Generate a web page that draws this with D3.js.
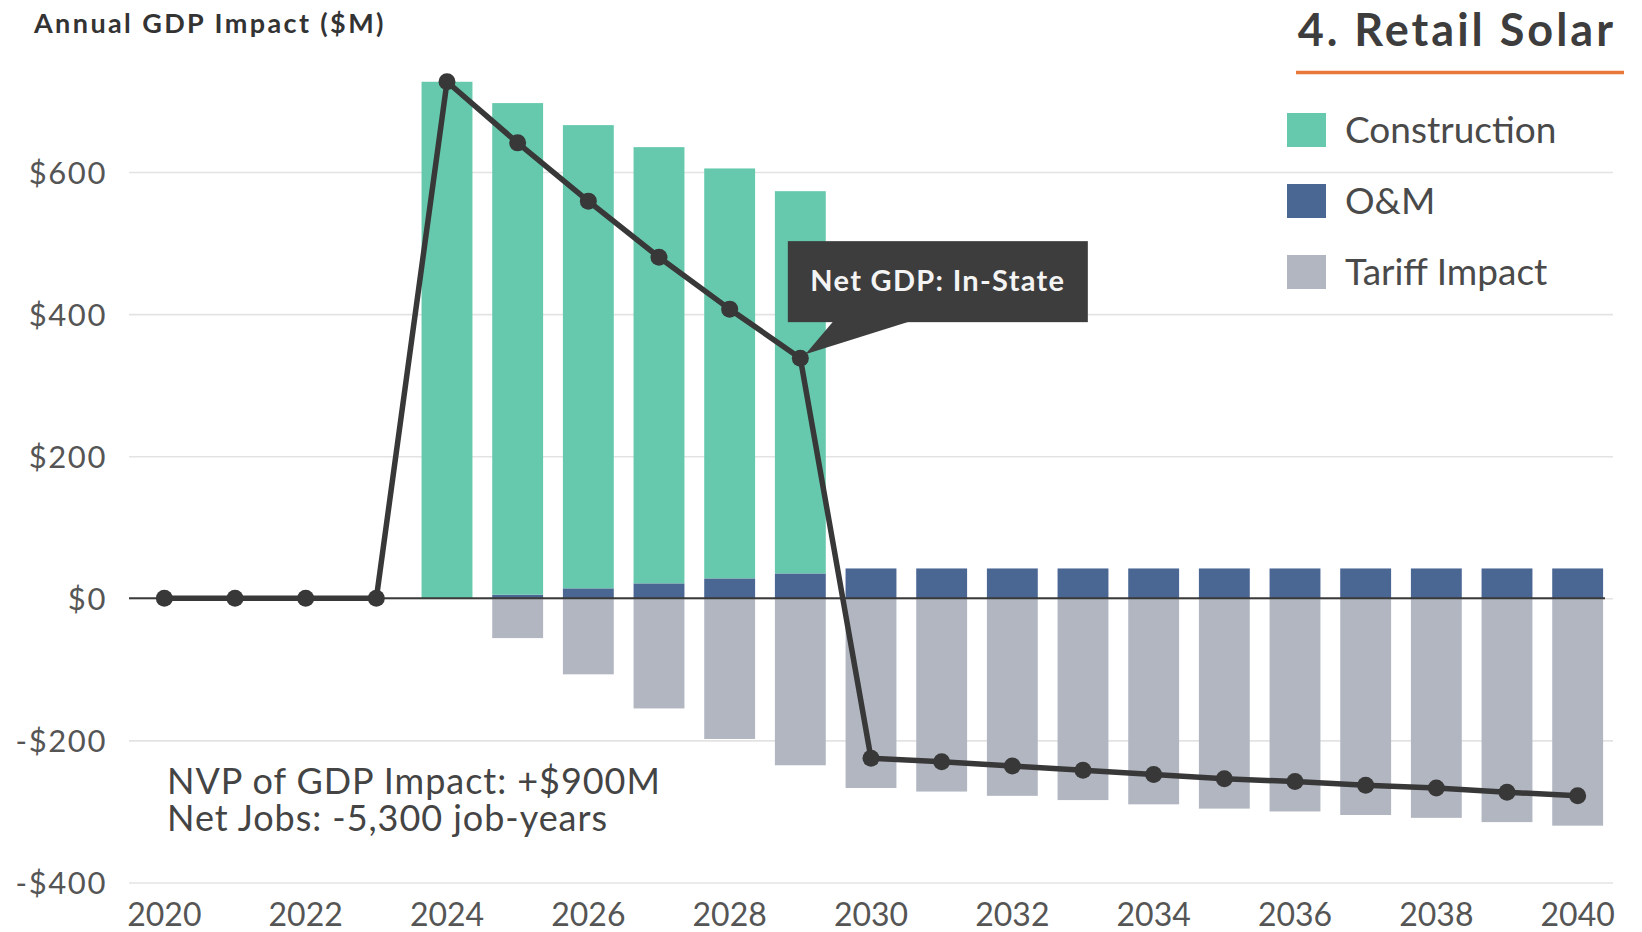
<!DOCTYPE html>
<html>
<head>
<meta charset="utf-8">
<script src="https://cdn.jsdelivr.net/npm/d3@7"></script>
<style>
  html, body { margin: 0; padding: 0; background: #ffffff; }
  svg { display: block; font-family: Lato, "Open Sans", sans-serif; }
</style>
</head>
<body>
<svg id="chart" width="1642" height="932"></svg>
<script>
// Annual GDP impact of retail solar, $M per year
const years = ["2020","2021","2022","2023","2024","2025","2026","2027","2028","2029","2030",
               "2031","2032","2033","2034","2035","2036","2037","2038","2039","2040"];
const construction = [0, 0, 0, 0, 727, 692, 652, 614, 577, 538, 0, 0, 0, 0, 0, 0, 0, 0, 0, 0, 0];
const operations   = [0, 0, 0, 0, 0, 5, 14, 21, 28, 35, 42, 42, 42, 42, 42, 42, 42, 42, 42, 42, 42];
const tariff       = [0, 0, 0, 0, 0, -56, -107, -155, -198, -235, -267, -272, -278, -284, -290, -296, -300, -305, -309, -315, -320];
const netInState   = [0, 0, 0, 0, 727, 641, 559, 480, 407, 338, -225, -230, -236, -242, -248, -254, -258, -263, -267, -273, -278];

const yTicks = [-400, -200, 0, 200, 400, 600];
const xTickLabels = ["2020","2022","2024","2026","2028","2030","2032","2034","2036","2038","2040"];

const legendItems = ["Construction", "O&M", "Tariff Impact"];
const colors = { construction: "#66c9ad", operations: "#4a6692", tariff: "#b1b6c0" };
const chartTitle = "4. Retail Solar";
const axisTitle = "Annual GDP Impact ($M)";
const calloutText = "Net GDP: In-State";
const summaryLines = ["NVP of GDP Impact: +$900M", "Net Jobs: -5,300 job-years"];

const svg = d3.select("#chart");
const plotLeft = 129, plotRight = 1613;

const x = d3.scaleBand().domain(years).range([plotLeft, plotRight])
  .paddingInner(0.28).paddingOuter(0.14);
const y = d3.scaleLinear().domain([-400, 600]).range([882.5, 172]);
const cx = d => x(d) + x.bandwidth() / 2;

// gridlines
svg.append("g")
  .attr("transform", `translate(${plotLeft},0)`)
  .call(d3.axisLeft(y).tickValues(yTicks).tickSize(-(plotRight - plotLeft)).tickFormat(""))
  .call(g => g.select(".domain").remove())
  .call(g => g.selectAll(".tick line").attr("stroke", "#e3e3e3").attr("stroke-width", 1.6));

// y tick labels
svg.append("g")
  .attr("transform", "translate(107,0)")
  .call(d3.axisLeft(y).tickValues(yTicks).tickSize(0).tickPadding(0)
    .tickFormat(v => (v < 0 ? "-$" : "$") + Math.abs(v)))
  .call(g => g.select(".domain").remove())
  .call(g => g.selectAll("text").attr("font-family", "Lato").attr("font-size", 31)
    .attr("letter-spacing", 1.6).attr("fill", "#555").attr("dy", "0.36em"));

// x tick labels
svg.append("g")
  .attr("transform", "translate(0,903)")
  .call(d3.axisBottom(x).tickValues(xTickLabels).tickSize(0).tickPadding(0))
  .call(g => g.select(".domain").remove())
  .call(g => g.selectAll("text").attr("font-family", "Lato").attr("font-size", 32)
    .attr("fill", "#555").attr("dy", "0.72em"));

// stacked bars: construction on top of O&M above zero, tariff below zero
const bars = svg.append("g");
years.forEach((yr, i) => {
  const om = operations[i], con = construction[i], tf = tariff[i];
  if (om > 0) bars.append("rect").attr("x", x(yr)).attr("width", x.bandwidth())
    .attr("y", y(om)).attr("height", y(0) - y(om)).attr("fill", colors.operations);
  if (con > 0) bars.append("rect").attr("x", x(yr)).attr("width", x.bandwidth())
    .attr("y", y(om + con)).attr("height", y(om) - y(om + con)).attr("fill", colors.construction);
  if (tf < 0) bars.append("rect").attr("x", x(yr)).attr("width", x.bandwidth())
    .attr("y", y(0)).attr("height", y(tf) - y(0)).attr("fill", colors.tariff);
});

// zero baseline
svg.append("line").attr("x1", plotLeft).attr("x2", plotRight - 8)
  .attr("y1", y(0)).attr("y2", y(0)).attr("stroke", "#3a3a3a").attr("stroke-width", 2);

// net in-state GDP line with markers
const line = d3.line().x((d, i) => cx(years[i])).y(d => y(d));
svg.append("path").datum(netInState).attr("d", line)
  .attr("fill", "none").attr("stroke", "#383838").attr("stroke-width", 5.5)
  .attr("stroke-linejoin", "round");
svg.append("g").selectAll("circle").data(netInState).join("circle")
  .attr("cx", (d, i) => cx(years[i])).attr("cy", d => y(d)).attr("r", 8.5)
  .attr("fill", "#383838");

// callout attached to the 2029 point
const px = cx("2029"), py = y(netInState[9]);
const box = { left: px - 12.5, top: py - 117, w: 300, h: 81 };
const callout = svg.append("g");
callout.append("path")
  .attr("d", `M${px + 33},${box.top + box.h - 1} L${px + 110},${box.top + box.h - 1} L${px + 5},${py - 4} Z`)
  .attr("fill", "#3d3d3d");
callout.append("rect").attr("x", box.left).attr("y", box.top)
  .attr("width", box.w).attr("height", box.h).attr("fill", "#3d3d3d");
callout.append("text").attr("x", box.left + box.w / 2).attr("y", box.top + 50)
  .attr("text-anchor", "middle").attr("font-size", 29).attr("font-weight", 700)
  .attr("letter-spacing", 1.3).attr("fill", "#f4f4f4").text(calloutText);

// axis title
svg.append("text").attr("x", 34).attr("y", 33).attr("font-size", 27).attr("font-weight", 700)
  .attr("letter-spacing", 2.4).attr("fill", "#333").text(axisTitle);

// chart title with orange rule
svg.append("text").attr("x", 1616).attr("y", 46).attr("text-anchor", "end")
  .attr("font-size", 45).attr("font-weight", 700).attr("letter-spacing", 3)
  .attr("fill", "#3d3d3d").text(chartTitle);
svg.append("line").attr("x1", 1296).attr("x2", 1624).attr("y1", 72.5).attr("y2", 72.5)
  .attr("stroke", "#e8773a").attr("stroke-width", 3.5);

// legend
const legendColors = [colors.construction, colors.operations, colors.tariff];
const legend = svg.append("g").attr("transform", "translate(1287,113)");
legendItems.forEach((name, i) => {
  const g = legend.append("g").attr("transform", `translate(0,${i * 71})`);
  g.append("rect").attr("width", 39).attr("height", 34).attr("fill", legendColors[i]);
  g.append("text").attr("x", 58).attr("y", 17).attr("dy", "0.36em")
    .attr("font-size", 37).attr("fill", "#4a4a4a").text(name);
});

// summary text
const summary = svg.append("text").attr("font-size", 36).attr("letter-spacing", 0.95).attr("fill", "#444");
summaryLines.forEach((t, i) => {
  summary.append("tspan").attr("x", 167).attr("y", 794 + i * 36.5).text(t);
});
</script>
</body>
</html>
